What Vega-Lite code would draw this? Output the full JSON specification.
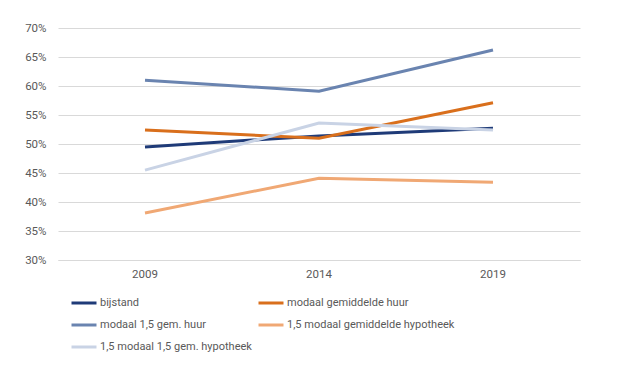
{
  "$schema": "https://vega.github.io/schema/vega-lite/v6.json",
  "autosize": {"type": "none"},
  "width": 522,
  "height": 232,
  "padding": {"left": 58, "top": 28, "right": 38, "bottom": 122},
  "background": "white",
  "config": {
    "view": {"stroke": null},
    "font": "Roboto",
    "axis": {"labelColor": "#595959", "labelFontSize": 11.5, "labelFont": "Roboto", "title": null}
  },
  "data": {
    "values": [
      {"year": "2009", "serie": "bijstand", "value": 0.495},
      {"year": "2014", "serie": "bijstand", "value": 0.514},
      {"year": "2019", "serie": "bijstand", "value": 0.527},
      {"year": "2009", "serie": "modaal gemiddelde huur", "value": 0.524},
      {"year": "2014", "serie": "modaal gemiddelde huur", "value": 0.510},
      {"year": "2019", "serie": "modaal gemiddelde huur", "value": 0.571},
      {"year": "2009", "serie": "modaal 1,5 gem. huur", "value": 0.610},
      {"year": "2014", "serie": "modaal 1,5 gem. huur", "value": 0.591},
      {"year": "2019", "serie": "modaal 1,5 gem. huur", "value": 0.662},
      {"year": "2009", "serie": "1,5 modaal gemiddelde hypotheek", "value": 0.381},
      {"year": "2014", "serie": "1,5 modaal gemiddelde hypotheek", "value": 0.441},
      {"year": "2019", "serie": "1,5 modaal gemiddelde hypotheek", "value": 0.434},
      {"year": "2009", "serie": "1,5 modaal 1,5 gem. hypotheek", "value": 0.455},
      {"year": "2014", "serie": "1,5 modaal 1,5 gem. hypotheek", "value": 0.536},
      {"year": "2019", "serie": "1,5 modaal 1,5 gem. hypotheek", "value": 0.524}
    ]
  },
  "mark": {"type": "line", "strokeWidth": 3},
  "encoding": {
    "x": {
      "field": "year", "type": "ordinal",
      "scale": {"type": "band", "paddingInner": 0, "paddingOuter": 0},
      "axis": {"labelAngle": 0, "ticks": false, "domainColor": "#d9d9d9", "labelPadding": 8, "grid": false}
    },
    "y": {
      "field": "value", "type": "quantitative",
      "scale": {"domain": [0.3, 0.7], "nice": false, "zero": false},
      "axis": {"values": [0.3, 0.35, 0.4, 0.45, 0.5, 0.55, 0.6, 0.65, 0.7], "format": ".0%", "ticks": false, "domain": false, "gridColor": "#d9d9d9", "labelPadding": 12}
    },
    "color": {
      "field": "serie", "type": "nominal",
      "scale": {
        "domain": ["bijstand", "modaal 1,5 gem. huur", "1,5 modaal 1,5 gem. hypotheek", "modaal gemiddelde huur", "1,5 modaal gemiddelde hypotheek"],
        "range": ["#1f3b78", "#6a84b0", "#c9d3e5", "#d96f1c", "#f0a874"]
      },
      "legend": {
        "orient": "none", "legendX": 12, "legendY": 261, "columns": 2, "title": null,
        "symbolType": "stroke", "symbolSize": 625, "symbolStrokeWidth": 3,
        "labelColor": "#595959", "labelFontSize": 11, "labelFont": "Roboto", "labelOffset": 2,
        "columnPadding": 0, "rowPadding": 2, "labelLimit": 300
      }
    }
  }
}
